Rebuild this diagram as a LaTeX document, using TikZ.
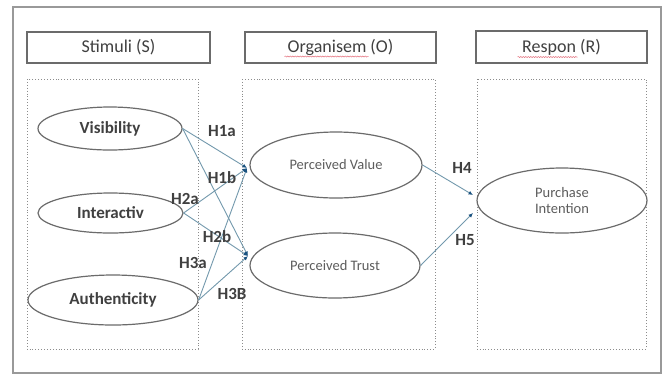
\documentclass[tikz,border=0pt]{standalone}
\usepackage{fontspec}
\setmainfont{Carlito}
\usetikzlibrary{shapes.geometric,arrows.meta,decorations.pathmorphing}
\definecolor{framegray}{gray}{0.6}
\definecolor{boxgray}{gray}{0.42}
\definecolor{dotgray}{gray}{0.55}
\definecolor{txtgray}{gray}{0.25}
\definecolor{linkblue}{rgb}{0.45,0.6,0.68}
\definecolor{tipblue}{rgb}{0.1,0.32,0.5}
\definecolor{squig}{rgb}{0.9,0.45,0.5}
\begin{document}
\begin{tikzpicture}[x=1pt,y=-1pt,
  header/.style={draw=boxgray, line width=1.4pt, rectangle, inner sep=0pt,
    text=txtgray, font=\fontsize{18}{20}\selectfont},
  panel/.style={draw=dotgray, line width=0.9pt, dotted},
  construct/.style={draw=boxgray, line width=1.2pt, ellipse, inner sep=0pt,
    text=txtgray, font=\bfseries\fontsize{17}{19}\selectfont},
  inner/.style={draw=boxgray, line width=1.2pt, ellipse, inner sep=0pt,
    text=txtgray!85, align=center, font=\fontsize{14.5}{16}\selectfont},
  hyp/.style={text=txtgray, inner sep=0pt, font=\bfseries\fontsize{17}{19}\selectfont},
  link/.style={draw=linkblue, line width=0.9pt,
    -{Latex[length=4.5pt,width=4pt,color=tipblue]}},
  wavy/.style={draw=squig, line width=0.5pt, decorate,
    decoration={snake, amplitude=0.6pt, segment length=2.5pt}}
]
\useasboundingbox (0,0) rectangle (666,376);
\fill[white] (0,0) rectangle (666,376);
% outer frame
\draw[framegray, line width=1.5pt] (13,7) rectangle (661,373);

% headers
\node[header, minimum width=183pt, minimum height=31pt] (hs) at (118.5,47.5) {Stimuli (S)};
\node[header, minimum width=191pt, minimum height=31pt] (ho) at (340.5,47.5) {Organisem (O)};
\node[header, minimum width=171pt, minimum height=32pt] (hr) at (561.5,47) {Respon (R)};
\draw[wavy] ([xshift=-56pt,yshift=-9pt]ho.center) -- ([xshift=28pt,yshift=-9pt]ho.center);
\draw[wavy] ([xshift=-44pt,yshift=-10pt]hr.center) -- ([xshift=16pt,yshift=-10pt]hr.center);

% panels
\draw[panel] (27,79) rectangle (198,349);
\draw[panel] (242,79) rectangle (435,349);
\draw[panel] (477,79) rectangle (646,349);

% constructs
\node[construct, minimum width=144pt, minimum height=43pt] (vis) at (110,128.5) {Visibility};
\node[construct, minimum width=145pt, minimum height=40pt] (int) at (110.5,213) {Interactiv};
\node[construct, minimum width=170pt, minimum height=50pt] (aut) at (113,300) {Authenticity};
\node[inner, minimum width=172pt, minimum height=66pt] (pv) at (336,165) {Perceived Value};
\node[inner, minimum width=170pt, minimum height=65pt] (pt) at (335,265.5) {Perceived Trust};
\node[inner, minimum width=170pt, minimum height=65pt] (pi) at (562,200.5) {Purchase\\Intention};

% arrival points
\coordinate (pvin) at (247,168);
\coordinate (ptin) at (248,256);
\coordinate (piA) at (473,195);
\coordinate (piB) at (473,213);

% connectors
\draw[link] (vis.east) -- (pvin);
\draw[link] (vis.east) -- (ptin);
\draw[link] (int.east) -- (pvin);
\draw[link] (int.east) -- (ptin);
\draw[link] (aut.east) -- (pvin);
\draw[link] (aut.east) -- (ptin);
\draw[link] (pv.east) -- (piA);
\draw[link] (pt.east) -- (piB);

% hypothesis labels
\node[hyp] (h1a) at (222,131) {H1a};
\node[hyp] (h1b) at (222,178) {H1b};
\node[hyp] (h2a) at (185,199) {H2a};
\node[hyp] (h2b) at (217,237) {H2b};
\node[hyp] (h3a) at (193,263) {H3a};
\node[hyp] (h3b) at (232,294) {H3B};
\node[hyp] (h4) at (462,168) {H4};
\node[hyp] (h5) at (465,240) {H5};
\end{tikzpicture}
\end{document}
